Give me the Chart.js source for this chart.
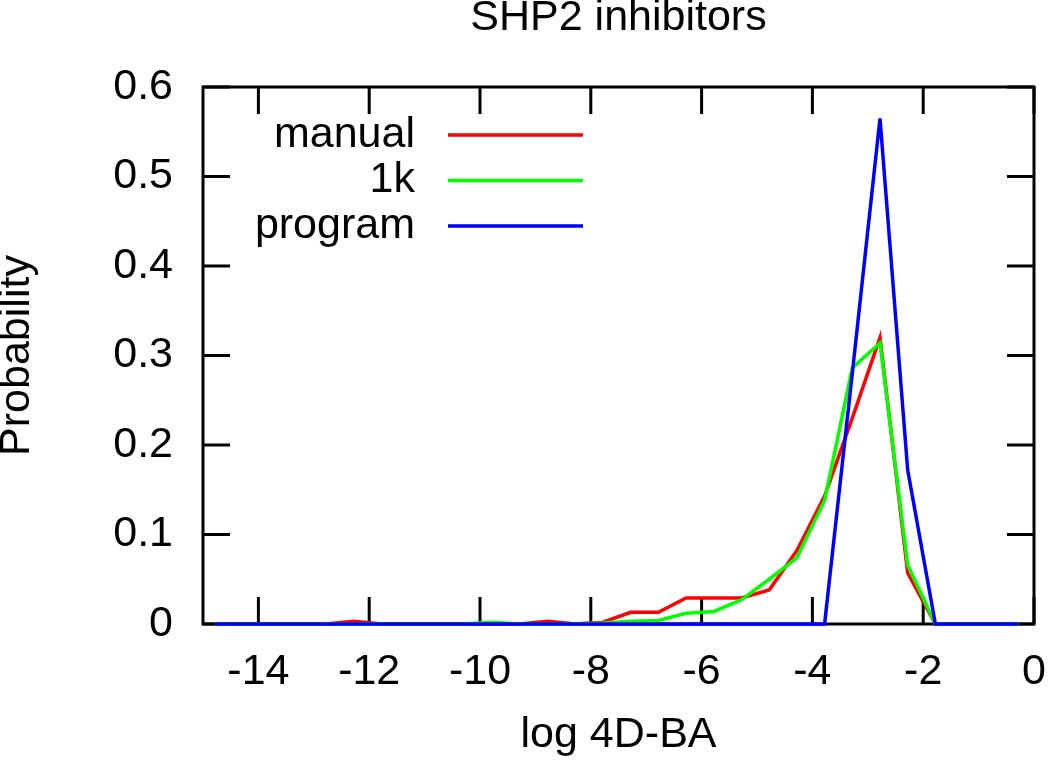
<!DOCTYPE html>
<html>
<head>
<meta charset="utf-8">
<script src="https://cdn.jsdelivr.net/npm/chart.js@4.4.1/dist/chart.umd.min.js"></script>
<style>
  html, body { margin: 0; padding: 0; background: #fff; }
  #wrap { width: 1050px; height: 765px; }
</style>
</head>
<body>
<div id="wrap"><canvas id="mycanvas" width="1050" height="765"></canvas></div>
<script>
// bin centres of log 4D-BA
var binX = [-14.78, -14.28, -13.78, -13.28, -12.78, -12.28, -11.78, -11.28, -10.78, -10.28,
            -9.78, -9.28, -8.78, -8.28, -7.78, -7.28, -6.78, -6.28, -5.78, -5.28,
            -4.78, -4.28, -3.78, -3.28, -2.78, -2.28, -1.78, -1.28, -0.78, -0.28];

var manual  = [0, 0, 0, 0, 0, 0.003, 0, 0, 0, 0,
               0, 0, 0.003, 0, 0.002, 0.013, 0.013, 0.029, 0.029, 0.029,
               0.038, 0.082, 0.143, 0.23, 0.32, 0.057, 0, 0, 0, 0];
var oneK    = [0, 0, 0, 0, 0, 0, 0, 0, 0, 0,
               0.002, 0, 0, 0, 0.001, 0.003, 0.004, 0.012, 0.014, 0.027,
               0.05, 0.074, 0.138, 0.286, 0.314, 0.066, 0, 0, 0, 0];
var program = [0, 0, 0, 0, 0, 0, 0, 0, 0, 0,
               0, 0, 0, 0, 0, 0, 0, 0, 0, 0,
               0, 0, 0, 0.28, 0.565, 0.172, 0, 0, 0, 0];

var xTicks = [-14, -12, -10, -8, -6, -4, -2, 0];
var yTicks = [0, 0.1, 0.2, 0.3, 0.4, 0.5, 0.6];

var FONT = "'Liberation Sans', Arial, Helvetica, sans-serif";

function toPoints(ys) {
  var pts = [];
  for (var i in ys) {
    pts.push({ x: binX[i], y: ys[i] });
  }
  return pts;
}

// gnuplot style frame with inward ticks on all four sides
var frame = {
  id: 'frame',
  beforeDatasetsDraw: function(chart) {
    var ctx = chart.ctx, a = chart.chartArea;
    var xs = chart.scales.x, ys = chart.scales.y;
    var len = 27;
    ctx.save();
    ctx.strokeStyle = '#000';
    ctx.lineWidth = 3;
    ctx.strokeRect(a.left, a.top, a.right - a.left, a.bottom - a.top);
    ctx.beginPath();
    xTicks.forEach(function(v) {
      var px = xs.getPixelForValue(v);
      ctx.moveTo(px, a.bottom); ctx.lineTo(px, a.bottom - len);
      ctx.moveTo(px, a.top);    ctx.lineTo(px, a.top + len);
    });
    yTicks.forEach(function(v) {
      var py = ys.getPixelForValue(v);
      ctx.moveTo(a.left, py);  ctx.lineTo(a.left + len, py);
      ctx.moveTo(a.right, py); ctx.lineTo(a.right - len, py);
    });
    ctx.stroke();
    ctx.restore();
  }
};

// legend inside the plot, text right aligned before the line sample
var keyBox = {
  id: 'keyBox',
  afterDraw: function(chart) {
    var ctx = chart.ctx;
    var sets = chart.data.datasets;
    ctx.save();
    ctx.font = '43px ' + FONT;
    ctx.fillStyle = '#000';
    ctx.textAlign = 'right';
    ctx.textBaseline = 'middle';
    ctx.lineWidth = 3.5;
    for (var i = 0; i < sets.length; i++) {
      var y = 135 + i * 45.5;
      ctx.fillText(sets[i].label, 415, y);
      ctx.strokeStyle = sets[i].borderColor;
      ctx.beginPath();
      ctx.moveTo(448, y); ctx.lineTo(583, y);
      ctx.stroke();
    }
    ctx.restore();
  }
};

var chartdata = {
  datasets: [
    { label: 'manual',  data: toPoints(manual),  borderColor: '#ff0000', order: 3 },
    { label: '1k',      data: toPoints(oneK),    borderColor: '#00ff00', order: 2 },
    { label: 'program', data: toPoints(program), borderColor: '#0000ff', order: 1 }
  ]
};

var ctx = document.getElementById('mycanvas');

var LineGraph = new Chart(ctx, {
  type: 'line',
  data: chartdata,
  plugins: [frame, keyBox],
  options: {
    responsive: false,
    animation: { duration: 0 },
    layout: { padding: { left: 0, right: 16, top: 0, bottom: 0 } },
    elements: {
      line: { borderWidth: 3.5, tension: 0, fill: false },
      point: { radius: 0 }
    },
    datasets: { line: { clip: false } },
    plugins: {
      legend: { display: false },
      tooltip: { enabled: false },
      title: {
        display: true,
        fullSize: false,
        text: 'SHP2 inhibitors',
        color: '#000',
        font: { family: FONT, size: 43, weight: 'normal', lineHeight: 0.8 },
        padding: { top: 0.8, bottom: 51.8 }
      }
    },
    scales: {
      x: {
        type: 'linear',
        min: -15,
        max: 0,
        afterBuildTicks: function(scale) {
          scale.ticks = xTicks.map(function(v) { return { value: v }; });
        },
        afterFit: function(scale) {
          scale.height = 141;
          scale.paddingLeft = 0;
          scale.paddingRight = 0;
        },
        grid: { display: false, drawTicks: false },
        border: { display: false },
        ticks: {
          color: '#000',
          padding: 22,
          maxRotation: 0,
          font: { family: FONT, size: 43 },
          callback: function(v) { return String(v); }
        },
        title: {
          display: true,
          text: 'log 4D-BA',
          color: '#000',
          font: { family: FONT, size: 43 },
          padding: { top: 0, bottom: 4 }
        }
      },
      y: {
        type: 'linear',
        min: 0,
        max: 0.6,
        afterBuildTicks: function(scale) {
          scale.ticks = yTicks.map(function(v) { return { value: v }; });
        },
        afterFit: function(scale) {
          scale.width = 203;
          scale.paddingTop = 0;
          scale.paddingBottom = 0;
        },
        grid: { display: false, drawTicks: false },
        border: { display: false },
        ticks: {
          color: '#000',
          padding: 30,
          font: { family: FONT, size: 43 },
          callback: function(v) { return String(v); }
        },
        title: {
          display: true,
          text: 'Probability',
          color: '#000',
          font: { family: FONT, size: 43, lineHeight: 0.8 },
          padding: { top: 0, bottom: 0 }
        }
      }
    }
  }
});
</script>
</body>
</html>
